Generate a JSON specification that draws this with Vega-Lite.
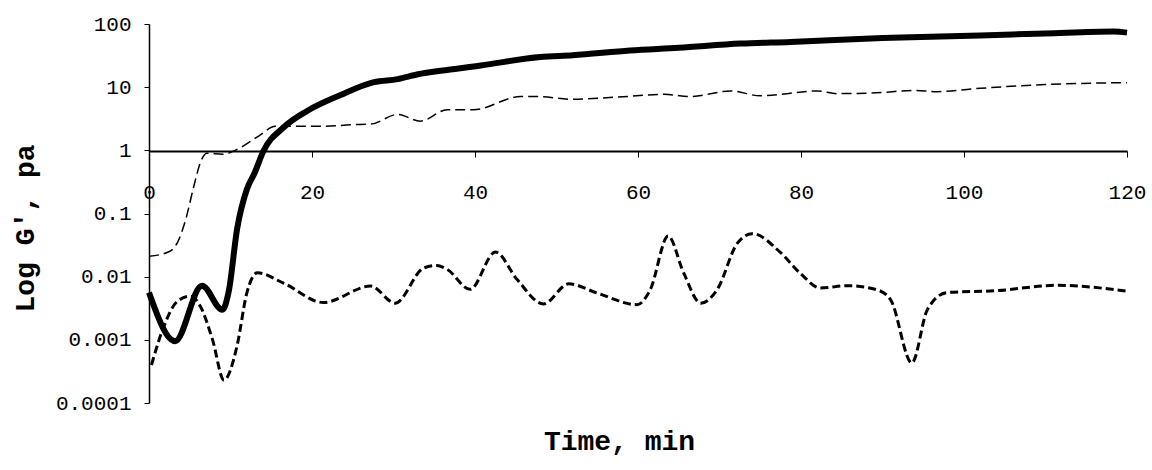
{
  "$schema": "https://vega.github.io/schema/vega-lite/v6.json",
  "width": 978,
  "height": 379,
  "autosize": "none",
  "padding": {"left": 149, "top": 24, "right": 25, "bottom": 67},
  "background": "white",
  "config": {"view": {"stroke": null}},
  "datasets": {
    "g": [
      {"s": "A", "t": 0, "v": 0.0056},
      {"s": "A", "t": 3.2, "v": 0.00095},
      {"s": "A", "t": 6.5, "v": 0.0072},
      {"s": "A", "t": 9, "v": 0.003},
      {"s": "A", "t": 9.8, "v": 0.006},
      {"s": "A", "t": 10.8, "v": 0.056},
      {"s": "A", "t": 12, "v": 0.24},
      {"s": "A", "t": 13, "v": 0.45},
      {"s": "A", "t": 14, "v": 0.95},
      {"s": "A", "t": 16.5, "v": 2.3},
      {"s": "A", "t": 19.4, "v": 4.2},
      {"s": "A", "t": 23.5, "v": 7.5},
      {"s": "A", "t": 27.6, "v": 12},
      {"s": "A", "t": 30.5, "v": 13.4},
      {"s": "A", "t": 33, "v": 16},
      {"s": "A", "t": 35.8, "v": 18.2},
      {"s": "A", "t": 40.7, "v": 22},
      {"s": "A", "t": 48, "v": 30},
      {"s": "A", "t": 52, "v": 32},
      {"s": "A", "t": 59, "v": 38},
      {"s": "A", "t": 65, "v": 42},
      {"s": "A", "t": 72.6, "v": 49},
      {"s": "A", "t": 78.7, "v": 52},
      {"s": "A", "t": 90, "v": 60},
      {"s": "A", "t": 102, "v": 66},
      {"s": "A", "t": 110, "v": 71},
      {"s": "A", "t": 118.4, "v": 76},
      {"s": "A", "t": 120, "v": 73},
      {"s": "B", "t": 0, "v": 0.021},
      {"s": "B", "t": 2.5, "v": 0.025},
      {"s": "B", "t": 3.5, "v": 0.035},
      {"s": "B", "t": 4.5, "v": 0.08},
      {"s": "B", "t": 5.5, "v": 0.27},
      {"s": "B", "t": 6.3, "v": 0.64},
      {"s": "B", "t": 7.1, "v": 0.9},
      {"s": "B", "t": 9.1, "v": 0.87},
      {"s": "B", "t": 11.2, "v": 1.1},
      {"s": "B", "t": 13.5, "v": 1.7},
      {"s": "B", "t": 15.5, "v": 2.4},
      {"s": "B", "t": 17.4, "v": 2.4},
      {"s": "B", "t": 21.4, "v": 2.4},
      {"s": "B", "t": 25, "v": 2.55},
      {"s": "B", "t": 27.2, "v": 2.6},
      {"s": "B", "t": 30.5, "v": 3.7},
      {"s": "B", "t": 33.3, "v": 2.9},
      {"s": "B", "t": 36.6, "v": 4.4},
      {"s": "B", "t": 39.8, "v": 4.4},
      {"s": "B", "t": 45.6, "v": 7.1},
      {"s": "B", "t": 47.7, "v": 7.1},
      {"s": "B", "t": 51.7, "v": 6.45},
      {"s": "B", "t": 57, "v": 6.9},
      {"s": "B", "t": 63.2, "v": 7.7},
      {"s": "B", "t": 66.4, "v": 7.1},
      {"s": "B", "t": 71.4, "v": 8.7},
      {"s": "B", "t": 75, "v": 7.3},
      {"s": "B", "t": 82, "v": 8.7},
      {"s": "B", "t": 84.4, "v": 7.9},
      {"s": "B", "t": 89.8, "v": 8.2},
      {"s": "B", "t": 93.8, "v": 8.9},
      {"s": "B", "t": 96.7, "v": 8.5},
      {"s": "B", "t": 102, "v": 9.6},
      {"s": "B", "t": 110, "v": 11},
      {"s": "B", "t": 120, "v": 11.8},
      {"s": "C", "t": 0.3, "v": 0.0004},
      {"s": "C", "t": 1.8, "v": 0.0016},
      {"s": "C", "t": 3.5, "v": 0.0041},
      {"s": "C", "t": 5.1, "v": 0.0049},
      {"s": "C", "t": 6.3, "v": 0.0034},
      {"s": "C", "t": 7.8, "v": 0.001},
      {"s": "C", "t": 9.2, "v": 0.00023},
      {"s": "C", "t": 10.8, "v": 0.0008},
      {"s": "C", "t": 12, "v": 0.0055},
      {"s": "C", "t": 13.3, "v": 0.0115},
      {"s": "C", "t": 16.5, "v": 0.0079},
      {"s": "C", "t": 21.4, "v": 0.0039},
      {"s": "C", "t": 27.2, "v": 0.0071},
      {"s": "C", "t": 30.2, "v": 0.0038},
      {"s": "C", "t": 33.7, "v": 0.0137},
      {"s": "C", "t": 35.3, "v": 0.015},
      {"s": "C", "t": 36.6, "v": 0.013},
      {"s": "C", "t": 39.4, "v": 0.0063},
      {"s": "C", "t": 42.5, "v": 0.0245},
      {"s": "C", "t": 45.2, "v": 0.0089},
      {"s": "C", "t": 48.4, "v": 0.0037},
      {"s": "C", "t": 51.5, "v": 0.0077},
      {"s": "C", "t": 55, "v": 0.0055},
      {"s": "C", "t": 59.9, "v": 0.0036},
      {"s": "C", "t": 61.5, "v": 0.0062},
      {"s": "C", "t": 63.7, "v": 0.044},
      {"s": "C", "t": 65.6, "v": 0.0115},
      {"s": "C", "t": 67.7, "v": 0.0038},
      {"s": "C", "t": 69.7, "v": 0.0062},
      {"s": "C", "t": 72.2, "v": 0.034},
      {"s": "C", "t": 74, "v": 0.048},
      {"s": "C", "t": 77.5, "v": 0.024},
      {"s": "C", "t": 80, "v": 0.011},
      {"s": "C", "t": 82.4, "v": 0.0066},
      {"s": "C", "t": 85.7, "v": 0.0072},
      {"s": "C", "t": 89.3, "v": 0.0062},
      {"s": "C", "t": 91, "v": 0.0043},
      {"s": "C", "t": 93.6, "v": 0.00043},
      {"s": "C", "t": 95.5, "v": 0.003},
      {"s": "C", "t": 97.9, "v": 0.0056},
      {"s": "C", "t": 104, "v": 0.006},
      {"s": "C", "t": 111.4, "v": 0.0073},
      {"s": "C", "t": 120, "v": 0.0059}
    ]
  },
  "data": {"name": "g"},
  "encoding": {
    "x": {
      "field": "t",
      "type": "quantitative",
      "scale": {"domain": [0, 120], "nice": false, "zero": false},
      "axis": {
        "values": [0, 20, 40, 60, 80, 100, 120],
        "offset": -252,
        "grid": false,
        "domainColor": "black",
        "domainWidth": 2,
        "tickColor": "black",
        "tickWidth": 1,
        "tickSize": 6,
        "labelPadding": 24,
        "labelFont": "Liberation Mono",
        "labelFontSize": 21,
        "labelColor": "black",
        "labelFlush": false,
        "labelOverlap": false,
        "title": "Time, min",
        "titleFont": "Liberation Mono",
        "titleFontWeight": "bold",
        "titleFontSize": 28,
        "titleColor": "black",
        "titleX": 470,
        "titleY": 290,
        "titleAlign": "center",
        "titleBaseline": "middle"
      }
    },
    "y": {
      "field": "v",
      "type": "quantitative",
      "scale": {"type": "log", "domain": [0.0001, 100], "nice": false},
      "axis": {
        "values": [0.0001, 0.001, 0.01, 0.1, 1, 10, 100],
        "format": "~g",
        "grid": false,
        "domainColor": "black",
        "domainWidth": 1.5,
        "tickColor": "black",
        "tickWidth": 1,
        "tickSize": 5,
        "labelPadding": 13,
        "labelFont": "Liberation Mono",
        "labelFontSize": 21,
        "labelColor": "black",
        "labelFlush": false,
        "labelOverlap": false,
        "title": "Log G', pa",
        "titleFont": "Liberation Mono",
        "titleFontWeight": "bold",
        "titleFontSize": 28,
        "titleColor": "black",
        "titleX": -124,
        "titleY": 204,
        "titleAlign": "center",
        "titleBaseline": "middle",
        "titleAngle": -90
      }
    }
  },
  "layer": [
    {
      "transform": [{"filter": "datum.s === 'C'"}],
      "mark": {"type": "line", "interpolate": "monotone", "color": "black", "strokeWidth": 3, "strokeDash": [8, 4]}
    },
    {
      "transform": [{"filter": "datum.s === 'B'"}],
      "mark": {"type": "line", "interpolate": "monotone", "color": "black", "strokeWidth": 1.5, "strokeDash": [10, 5]}
    },
    {
      "transform": [{"filter": "datum.s === 'A'"}],
      "mark": {"type": "line", "interpolate": "monotone", "color": "black", "strokeWidth": 6}
    }
  ]
}
